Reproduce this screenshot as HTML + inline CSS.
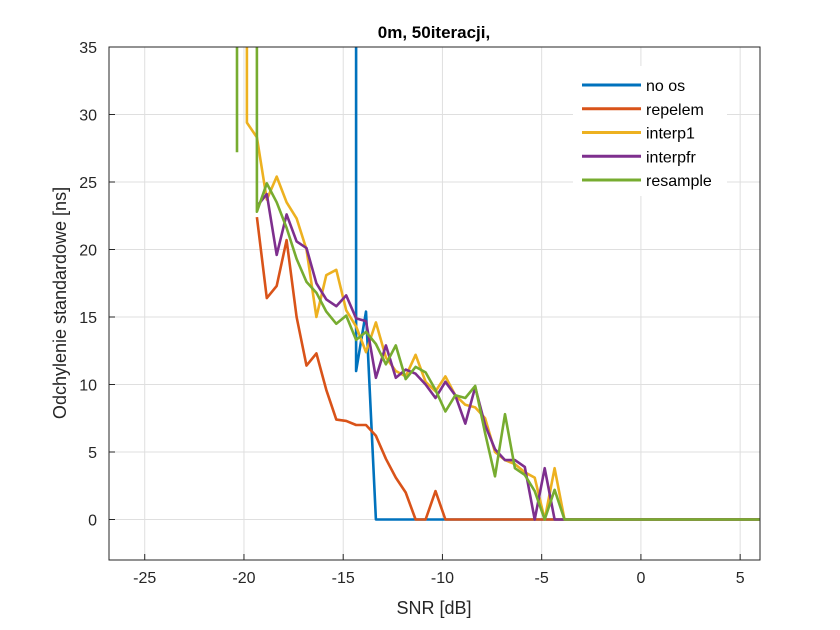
<!DOCTYPE html>
<html><head><meta charset="utf-8"><style>
body{margin:0;background:#fff;}
svg{display:block;font-family:"Liberation Sans",Arial,sans-serif;}
</style></head><body>
<svg id="chart" width="840" height="630">
<rect width="840" height="630" fill="#fff"/>
<rect x="109" y="47" width="651" height="513" fill="#fff"/>
<g id="grid"></g>
<g id="series" clip-path="url(#clip)"></g>
<defs><clipPath id="clip"><rect x="109" y="47" width="651" height="513"/></clipPath></defs>
<rect x="109" y="47" width="651" height="513" fill="none" stroke="#262626" stroke-width="1"/>
<g id="ticks"></g>
<text x="434" y="38" text-anchor="middle" font-size="17" font-weight="bold" fill="#000">0m, 50iteracji,</text>
<text x="434" y="614" text-anchor="middle" font-size="18" fill="#262626">SNR [dB]</text>
<text transform="translate(66,303) rotate(-90)" text-anchor="middle" font-size="18" fill="#262626">Odchylenie standardowe [ns]</text>
<g id="legend"></g>
</svg>
<script>
const xTicks=[-25,-20,-15,-10,-5,0,5];
const yTicks=[0,5,10,15,20,25,30,35];
const seriesNames=["no os","repelem","interp1","interpfr","resample"];
const seriesColors=["#0072BD","#D95319","#EDB120","#7E2F8E","#77AC30"];
const dataOffset=0.15;
const noosX=[-14.5,-14.5,-14,-13.5,6];
const noosY=[60,11,15.4,0,0];
const repelemX=[-19.5,-19,-18.5,-18,-17.5,-17,-16.5,-16,-15.5,-15,-14.5,-14,-13.5,-13,-12.5,-12,-11.5,-11,-10.5,-10,6];
const repelemY=[22.4,16.4,17.3,20.7,15,11.4,12.3,9.6,7.4,7.3,7,7,6.2,4.5,3.1,2,0,0,2.1,0,0];
const interp1X=[-20,-20,-19.5,-19,-18.5,-18,-17.5,-17,-16.5,-16,-15.5,-15,-14.5,-14,-13.5,-13,-12.5,-12,-11.5,-11,-10.5,-10,-9.5,-9,-8.5,-8,-7.5,-7,-6.5,-6,-5.5,-5,-4.5,-4,6];
const interp1Y=[60,29.4,28.3,23.7,25.4,23.5,22.3,20,15,18.1,18.5,15.5,14.3,12.4,14.6,12,11,10.6,12.2,10.2,9.5,10.6,9.2,8.5,8.3,7.5,5,4.4,4.1,3.5,3.1,0,3.8,0,0];
const interpfrX=[-19.5,-19,-18.5,-18,-17.5,-17,-16.5,-16,-15.5,-15,-14.5,-14,-13.5,-13,-12.5,-12,-11.5,-11,-10.5,-10,-9.5,-9,-8.5,-8,-7.5,-7,-6.5,-6,-5.5,-5,-4.5,6];
const interpfrY=[23.2,24.1,19.6,22.6,20.6,20.1,17.5,16.3,15.8,16.6,14.9,14.7,10.5,12.9,10.5,11.1,10.8,10,9,10.2,9.2,7.1,9.8,7,5.2,4.4,4.4,3.9,0,3.8,0,0];
const resampleX=[-20.5,-20.5,null,-19.5,-19.5,-19,-18.5,-18,-17.5,-17,-16.5,-16,-15.5,-15,-14.5,-14,-13.5,-13,-12.5,-12,-11.5,-11,-10.5,-10,-9.5,-9,-8.5,-8,-7.5,-7,-6.5,-6,-5.5,-5,-4.5,-4,6];
const resampleY=[60,27.2,null,60,22.8,24.9,23.5,21.6,19.3,17.6,16.8,15.4,14.5,15.1,13.3,13.9,13,11.5,12.9,10.4,11.3,10.9,9.6,8,9.2,9,9.9,6.4,3.2,7.8,3.8,3.3,2.1,0,2.2,0,0];
const seriesX=[noosX,repelemX,interp1X,interpfrX,resampleX];
const seriesY=[noosY,repelemY,interp1Y,interpfrY,resampleY];
const X0=109,X1=760,Y0=47,Y1=560,xMin=-26.8,xMax=6,yMin=-3,yMax=35;
function sx(v){return X0+(v-xMin)/(xMax-xMin)*(X1-X0);}
function sy(v){return Y1-(v-yMin)/(yMax-yMin)*(Y1-Y0);}
const NS="http://www.w3.org/2000/svg";
function mk(t,a,p){const e=document.createElementNS(NS,t);for(const k in a)e.setAttribute(k,a[k]);p.appendChild(e);return e;}
const grid=document.getElementById('grid'),ticks=document.getElementById('ticks');
xTicks.forEach(v=>{
 const l=mk('line',{x1:sx(v),x2:sx(v),y1:Y0,y2:Y1,stroke:'#dfdfdf','stroke-width':1},grid);
 
 
 const t1=mk('line',{x1:sx(v),x2:sx(v),y1:Y1,y2:Y1-6,stroke:'#262626'},ticks);
 
 
 const t=mk('text',{x:sx(v),y:Y1+23,'text-anchor':'middle','font-size':16,fill:'#262626'},ticks);
 t.textContent=v;
 
 
});
yTicks.forEach(v=>{
 const l=mk('line',{x1:X0,x2:X1,y1:sy(v),y2:sy(v),stroke:'#dfdfdf','stroke-width':1},grid);
 
 
 const t1=mk('line',{x1:X0,x2:X0+6,y1:sy(v),y2:sy(v),stroke:'#262626'},ticks);
 
 
 const t=mk('text',{x:X0-12,y:sy(v)+6,'text-anchor':'end','font-size':16,fill:'#262626'},ticks);
 t.textContent=v;
 
 
});
const sg=document.getElementById('series');
seriesX.forEach((xs,i)=>{
 let d='',pen=false;
 xs.forEach((x,j)=>{const y=seriesY[i][j];
  if(x===null||y===null){pen=false;return;}
  d+=(pen?'L':'M')+sx(x+dataOffset).toFixed(1)+','+sy(y).toFixed(1);pen=true;});
 const p=mk('path',{d:d,fill:'none',stroke:seriesColors[i],'stroke-width':2.6,'stroke-linejoin':'round'},sg);
 
 
});
const lg=document.getElementById('legend');
const bg=mk('rect',{x:573,y:66,width:154,height:130,fill:'#fff'},lg);


seriesNames.forEach((n,i)=>{
 const y=85+i*23.75;
 const l=mk('line',{x1:582,x2:641,y1:y,y2:y,stroke:seriesColors[i],'stroke-width':3},lg);
 
 
 const t=mk('text',{x:646,y:y+6,'font-size':16,fill:'#000'},lg);
 t.textContent=n;
 
 
});
</script>
</body></html>
